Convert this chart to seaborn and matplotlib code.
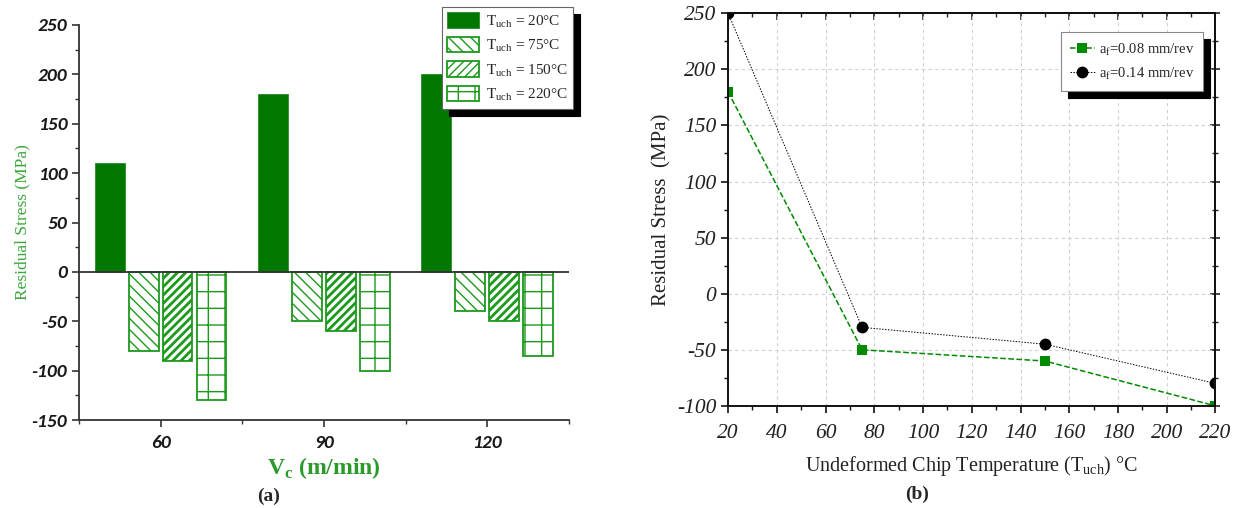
import numpy as np
import pandas as pd
import matplotlib
matplotlib.use("Agg")
import matplotlib.pyplot as plt
import seaborn as sns
from matplotlib.ticker import MultipleLocator, FixedLocator

# ---------------- data ----------------
vc_labels = ["60", "90", "120"]
temp_labels = ["T$_{\\mathregular{uch}}$ = 20°C", "T$_{\\mathregular{uch}}$ = 75°C",
               "T$_{\\mathregular{uch}}$ = 150°C", "T$_{\\mathregular{uch}}$ = 220°C"]
stress_20 = [110, 180, 200]
stress_75 = [-80, -50, -40]
stress_150 = [-90, -60, -50]
stress_220 = [-130, -100, -85]

temps_b = [20, 75, 150, 220]
af008 = [180, -50, -60, -100]
af014 = [250, -30, -45, -80]
label_008 = "a$_{\\mathregular{f}}$=0.08 mm/rev"
label_014 = "a$_{\\mathregular{f}}$=0.14 mm/rev"

yticks_a = [-150, -100, -50, 0, 50, 100, 150, 200, 250]
xticks_b = [20, 40, 60, 80, 100, 120, 140, 160, 180, 200, 220]
yticks_b = [-100, -50, 0, 50, 100, 150, 200, 250]

# ---------------- style ----------------
sns.set_theme(style="white")
plt.rcParams['font.family'] = ['Liberation Serif', 'DejaVu Sans']
plt.rcParams['mathtext.fontset'] = 'custom'
plt.rcParams['mathtext.rm'] = 'Liberation Serif'
plt.rcParams['mathtext.bf'] = 'Liberation Serif:bold'
plt.rcParams['axes.unicode_minus'] = False
plt.rcParams['hatch.linewidth'] = 1.0

DARK_GREEN = '#007800'
HATCH_GREEN = '#1c9a1c'
LABEL_GREEN = '#3aa83a'

fig = plt.figure(figsize=(12.34, 5.08), dpi=100)
ax1 = fig.add_axes([0.064, 0.173, 0.397, 0.778])
ax2 = fig.add_axes([0.590, 0.201, 0.395, 0.773])

# ---------------- panel (a) ----------------
rows = []
for vals, t in zip([stress_20, stress_75, stress_150, stress_220], temp_labels):
    for v, s in zip(vc_labels, vals):
        rows.append({"Vc": v, "stress": s, "T": t})
df = pd.DataFrame(rows)

sns.barplot(data=df, x="Vc", y="stress", hue="T", order=vc_labels,
            hue_order=temp_labels, width=0.83, gap=0.12, ax=ax1,
            palette=[DARK_GREEN] * 4, saturation=1, legend=False, errorbar=None)

hatches = [None, '\\\\\\', '////', '+']
for i, cont in enumerate(ax1.containers):
    for p in cont.patches:
        if i == 0:
            p.set_facecolor(DARK_GREEN)
            p.set_edgecolor('#2a8a2a')
            p.set_linewidth(0.6)
        else:
            p.set_facecolor('white')
            p.set_edgecolor(HATCH_GREEN)
            p.set_hatch(hatches[i])
            p.set_linewidth(1.3)
            if i == 2 and hasattr(p, 'set_hatch_linewidth'):
                p.set_hatch_linewidth(2.0)
    cont.set_label(temp_labels[i])

ax1.axhline(0, color='#333333', lw=1.3, zorder=5)
ax1.set_xlim(-0.5, 2.5)
ax1.set_ylim(-150, 250)
ax1.set_yticks(yticks_a, [str(v) for v in yticks_a])
ax1.set_xticks(range(len(vc_labels)), vc_labels)
ax1.yaxis.set_minor_locator(MultipleLocator(25))
ax1.xaxis.set_minor_locator(FixedLocator([-0.5, 0.5, 1.5, 2.5]))
for s in ['top', 'right']:
    ax1.spines[s].set_visible(False)
for s in ['left', 'bottom']:
    ax1.spines[s].set_color('#333333')
    ax1.spines[s].set_linewidth(1.3)
ax1.tick_params(axis='both', which='major', direction='out', length=5, width=1.2,
                color='#333333', left=True, bottom=True)
ax1.tick_params(axis='both', which='minor', direction='out', length=3, width=1.0,
                color='#333333', left=True, bottom=True)
ax1.tick_params(axis='x', pad=6)
ax1.set_ylabel("Residual Stress (MPa)", color=LABEL_GREEN, fontsize=12.5, labelpad=1)
ax1.set_xlabel("V$_{\\mathbf{c}}$ (m/min)", color='#2a9a2a', fontsize=17,
               fontweight='bold', labelpad=3)

leg1 = ax1.legend(handles=ax1.containers, labels=temp_labels, loc='upper right',
                  bbox_to_anchor=(1.008, 1.046), borderaxespad=0, fontsize=11,
                  frameon=True, fancybox=False,
                  shadow={'color': 'black', 'alpha': 1, 'ox': 5, 'oy': -5},
                  handlelength=2.1, handleheight=1.2, borderpad=0.35, labelspacing=0.45,
                  handletextpad=0.4, edgecolor='#666666')
leg1.get_frame().set_linewidth(0.8)

fig.text(0.218, 0.022, "(a)", fontsize=14, fontweight='bold', ha='center', va='center')

# ---------------- panel (b) ----------------
sns.lineplot(x=temps_b, y=af008, ax=ax2, color='#008a00', linestyle='--', lw=1.1,
             marker='s', markersize=7, markeredgewidth=0, label=label_008)
sns.lineplot(x=temps_b, y=af014, ax=ax2, color='black', linestyle=(0, (1.5, 1.5)), lw=0.7,
             marker='o', markersize=8.5, markeredgewidth=0, label=label_014)
ax2.set_xlim(20, 220)
ax2.set_ylim(-100, 250)
ax2.set_xticks(xticks_b, [str(v) for v in xticks_b])
ax2.set_yticks(yticks_b, [str(v) for v in yticks_b])
ax2.xaxis.set_minor_locator(MultipleLocator(10))
ax2.yaxis.set_minor_locator(MultipleLocator(25))
ax2.grid(True, which='major', color='#d0d0d0', linestyle=(0, (3, 3)), lw=0.8)
ax2.set_axisbelow(True)
for s in ax2.spines.values():
    s.set_visible(True)
    s.set_color('#111111')
    s.set_linewidth(1.4)
ax2.tick_params(axis='both', which='major', direction='out', length=5, width=1.2,
                color='#111111', left=True, bottom=True)
ax2.tick_params(axis='both', which='minor', direction='out', length=3, width=1.0,
                color='#111111', left=True, bottom=True)
sec_x = ax2.secondary_xaxis('top')
sec_x.xaxis.set_major_locator(MultipleLocator(20))
sec_x.xaxis.set_minor_locator(MultipleLocator(10))
sec_x.tick_params(which='major', direction='in', length=5, width=1.2, labeltop=False)
sec_x.tick_params(which='minor', direction='in', length=3, width=1.0)
sec_x.spines['top'].set_linewidth(1.4)
sec_y = ax2.secondary_yaxis('right')
sec_y.yaxis.set_major_locator(MultipleLocator(50))
sec_y.yaxis.set_minor_locator(MultipleLocator(25))
sec_y.tick_params(which='major', direction='inout', length=7, width=1.2, labelright=False)
sec_y.tick_params(which='minor', direction='inout', length=4, width=1.0)
sec_y.spines['right'].set_linewidth(1.4)
ax2.tick_params(axis='x', pad=8)
ax2.set_ylabel("Residual Stress  (MPa)", fontsize=15, labelpad=4, color='#222222')
ax2.set_xlabel("Undeformed Chip Temperature (T$_{\\mathregular{uch}}$) °C", fontsize=14.5,
               labelpad=8, color='#222222')
leg2 = ax2.legend(loc='upper right', bbox_to_anchor=(0.975, 0.952), borderaxespad=0,
                  fontsize=10.5, frameon=True, fancybox=False,
                  shadow={'color': 'black', 'alpha': 1, 'ox': 5, 'oy': -5},
                  handlelength=1.7, borderpad=0.6, labelspacing=0.55, handletextpad=0.3,
                  edgecolor='#888888')
leg2.get_frame().set_linewidth(0.8)
for ln in ax2.lines:
    ln.set_clip_on(True)

fig.text(0.743, 0.026, "(b)", fontsize=14, fontweight='bold', ha='center', va='center')

# apply tick label fonts after a first draw so they stick
fig.canvas.draw()
for lab in ax1.get_xticklabels() + ax1.get_yticklabels():
    lab.set_fontfamily(['Carlito', 'Lato', 'DejaVu Sans'])
    lab.set_fontweight('bold')
    lab.set_fontstyle('italic')
    lab.set_fontsize(14)
    lab.set_color('#1a1a1a')
for lab in ax2.get_xticklabels() + ax2.get_yticklabels():
    lab.set_fontfamily(['Liberation Serif', 'DejaVu Serif'])
    lab.set_fontstyle('italic')
    lab.set_fontsize(15.5)
    lab.set_color('#222222')

fig.savefig("out.png", dpi=100)
